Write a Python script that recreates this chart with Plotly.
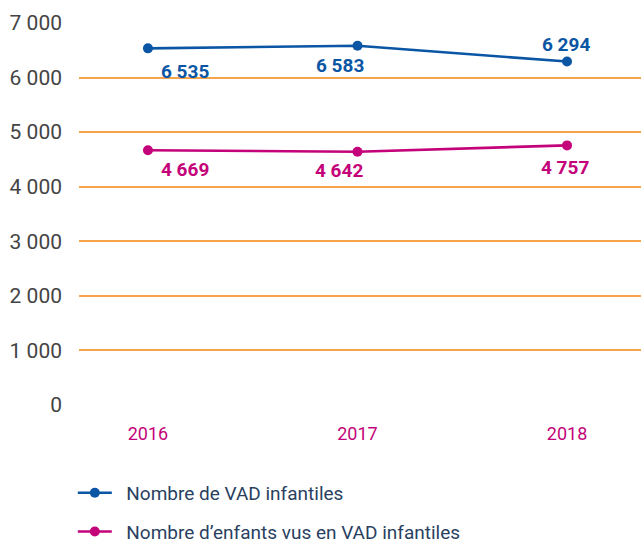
import plotly.graph_objects as go

years = ["2016", "2017", "2018"]
vad = [6535, 6583, 6294]
enfants = [4669, 4642, 4757]
yticks = [0, 1000, 2000, 3000, 4000, 5000, 6000, 7000]

BLUE = "#0b56a4"
PINK = "#c4037a"
GRID = "#f7a34b"
FONT = "Roboto"
PAD = "\u00a0\u00a0"

xs = list(range(len(years)))

def fmt(v):
    return f"{v:,}".replace(",", " ")

fig = go.Figure()
fig.add_trace(go.Scatter(x=xs, y=vad, mode="lines+markers", name=PAD + "Nombre de VAD infantiles",
                         line=dict(color=BLUE, width=2.6), marker=dict(size=10, color=BLUE),
                         legendgroup="a"))
fig.add_trace(go.Scatter(x=xs, y=enfants, mode="lines+markers", name=PAD + "Nombre d’enfants vus en VAD infantiles",
                         line=dict(color=PINK, width=2.6), marker=dict(size=10, color=PINK),
                         legendgroup="b"))

# label offsets (pixels) per point
blue_shift = [(37, -23), (-17, -20), (-1, 17)]
pink_shift = [(37, -19), (-18, -19), (-2, -22)]
for i, v in enumerate(vad):
    dx, dy = blue_shift[i]
    fig.add_annotation(x=xs[i], y=v, text=f"<b>{fmt(v)}</b>", showarrow=False,
                       xshift=dx, yshift=dy, font=dict(family=FONT, size=19, color=BLUE))
for i, v in enumerate(enfants):
    dx, dy = pink_shift[i]
    fig.add_annotation(x=xs[i], y=v, text=f"<b>{fmt(v)}</b>", showarrow=False,
                       xshift=dx, yshift=dy, font=dict(family=FONT, size=19, color=PINK))

fig.update_layout(
    width=641, height=542,
    margin=dict(l=79, r=0, t=22, b=136, autoexpand=False),
    paper_bgcolor="white", plot_bgcolor="white",
    separators=", ",
    font=dict(family=FONT),
    showlegend=True,
    legend=dict(x=-0.011, y=-0.177, xanchor="left", yanchor="top", orientation="v",
                font=dict(family=FONT, size=19), tracegroupgap=11, itemwidth=34,
                bgcolor="rgba(0,0,0,0)"),
)
fig.update_xaxes(range=[-0.329, 2.353], tickvals=xs, ticktext=years, automargin=False,
                 showgrid=False, zeroline=False, showline=False,
                 tickfont=dict(family=FONT, size=18, color=PINK), ticklabelstandoff=15)
fig.update_yaxes(range=[-18.3, 7018.3], tickvals=yticks, tickformat=",d", automargin=False,
                 showgrid=True, gridcolor=GRID, gridwidth=1.5, zeroline=False, showline=False,
                 tickfont=dict(family=FONT, size=21, color="#444444"), ticklabelstandoff=16)

fig.write_html("out.html", config={"displayModeBar": False},
               post_script="document.body.style.margin='0';document.body.style.overflow='hidden';")
